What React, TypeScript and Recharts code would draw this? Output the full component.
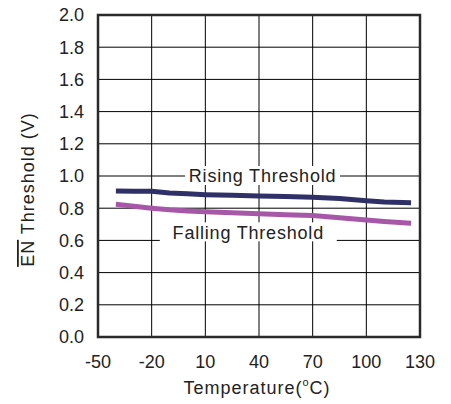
import React from 'react';
import {
  LineChart,
  Line,
  XAxis,
  YAxis,
  CartesianGrid,
  ReferenceArea,
  ReferenceDot,
  Customized,
} from 'recharts';

const temperatures = [-40, -30, -20, -10, 0, 10, 25, 40, 55, 70, 85, 100, 110, 125];
const risingThreshold = [0.907, 0.906, 0.905, 0.895, 0.889, 0.884, 0.88, 0.876, 0.872, 0.868, 0.86, 0.847, 0.838, 0.834];
const fallingThreshold = [0.824, 0.812, 0.8, 0.79, 0.783, 0.778, 0.771, 0.765, 0.76, 0.755, 0.741, 0.727, 0.718, 0.706];
const xTicks = [-50, -20, 10, 40, 70, 100, 130];
const yTicks = [0, 0.2, 0.4, 0.6, 0.8, 1.0, 1.2, 1.4, 1.6, 1.8, 2.0];

const data = temperatures.map((t, i) => ({
  t,
  rising: risingThreshold[i],
  falling: fallingThreshold[i],
}));

const FONT = '"Liberation Sans", Arial, Helvetica, sans-serif';
const TEXT = '#222';

const makeBoxLabel = (text: string, boxW: number) => (props: any) => {
  const vb = props.viewBox || {};
  const cx = (vb.x ?? 0) + (vb.width ?? 0) / 2;
  const cy = (vb.y ?? 0) + (vb.height ?? 0) / 2;
  return (
    <g>
      <rect x={cx - boxW / 2} y={cy - 10} width={boxW} height={19} fill="#fff" />
      <text
        x={cx}
        y={cy}
        dy="0.36em"
        textAnchor="middle"
        fontFamily={FONT}
        fontSize={18}
        letterSpacing={0.8}
        fill={TEXT}
      >
        {text}
      </text>
    </g>
  );
};

const AxisTitles = () => (
  <g>
    <text
      x={34}
      y={189.5}
      transform="rotate(-90, 34, 189.5)"
      textAnchor="middle"
      fontFamily={FONT}
      fontSize={18}
      letterSpacing={1}
      fill={TEXT}
    >
      <tspan style={{ textDecoration: 'overline' }}>EN</tspan>
      <tspan> Threshold (V)</tspan>
    </text>
    <text
      x={257}
      y={394}
      textAnchor="middle"
      fontFamily={FONT}
      fontSize={18}
      letterSpacing={1}
      fill={TEXT}
    >
      <tspan>Temperature(</tspan>
      <tspan fontSize={11} dy={-8}>o</tspan>
      <tspan dy={8}>C)</tspan>
    </text>
  </g>
);

export default function App() {
  return (
    <div style={{ position: 'absolute', left: 0, top: 0, width: 451, height: 404, background: '#fff' }}>
      <LineChart
        width={451}
        height={404}
        data={data}
        margin={{ top: 15, right: 31, left: 0, bottom: 0 }}
      >
        <CartesianGrid stroke="#000" strokeWidth={1} horizontalValues={yTicks} verticalValues={xTicks} />
        <XAxis
          dataKey="t"
          type="number"
          domain={[-50, 130]}
          ticks={xTicks}
          height={67}
          axisLine={false}
          tickLine={false}
          tickSize={6}
          tickMargin={12}
          interval={0}
          tick={{ fontFamily: FONT, fontSize: 18, fill: TEXT }}
        />
        <YAxis
          type="number"
          domain={[0, 2]}
          ticks={yTicks}
          width={98}
          axisLine={false}
          tickLine={false}
          tickSize={6}
          tickMargin={8}
          interval={0}
          tickFormatter={(v: number) => v.toFixed(1)}
          tick={{ fontFamily: FONT, fontSize: 18, fill: TEXT }}
        />
        <Line
          type="linear"
          dataKey="rising"
          stroke="#2f3068"
          strokeWidth={5}
          dot={false}
          isAnimationActive={false}
        />
        <Line
          type="linear"
          dataKey="falling"
          stroke="#a757a8"
          strokeWidth={5}
          dot={false}
          isAnimationActive={false}
        />
        <ReferenceDot x={42} y={1.0} r={0} fill="none" stroke="none" label={makeBoxLabel('Rising Threshold', 155)} />
        <ReferenceDot x={34} y={0.65} r={0} fill="none" stroke="none" label={makeBoxLabel('Falling Threshold', 177)} />
        <ReferenceArea x1={-50} x2={130} y1={0} y2={2} fill="none" stroke="#2a2a2a" strokeWidth={2.5} ifOverflow="visible" />
        <Customized component={AxisTitles} />
      </LineChart>
    </div>
  );
}
